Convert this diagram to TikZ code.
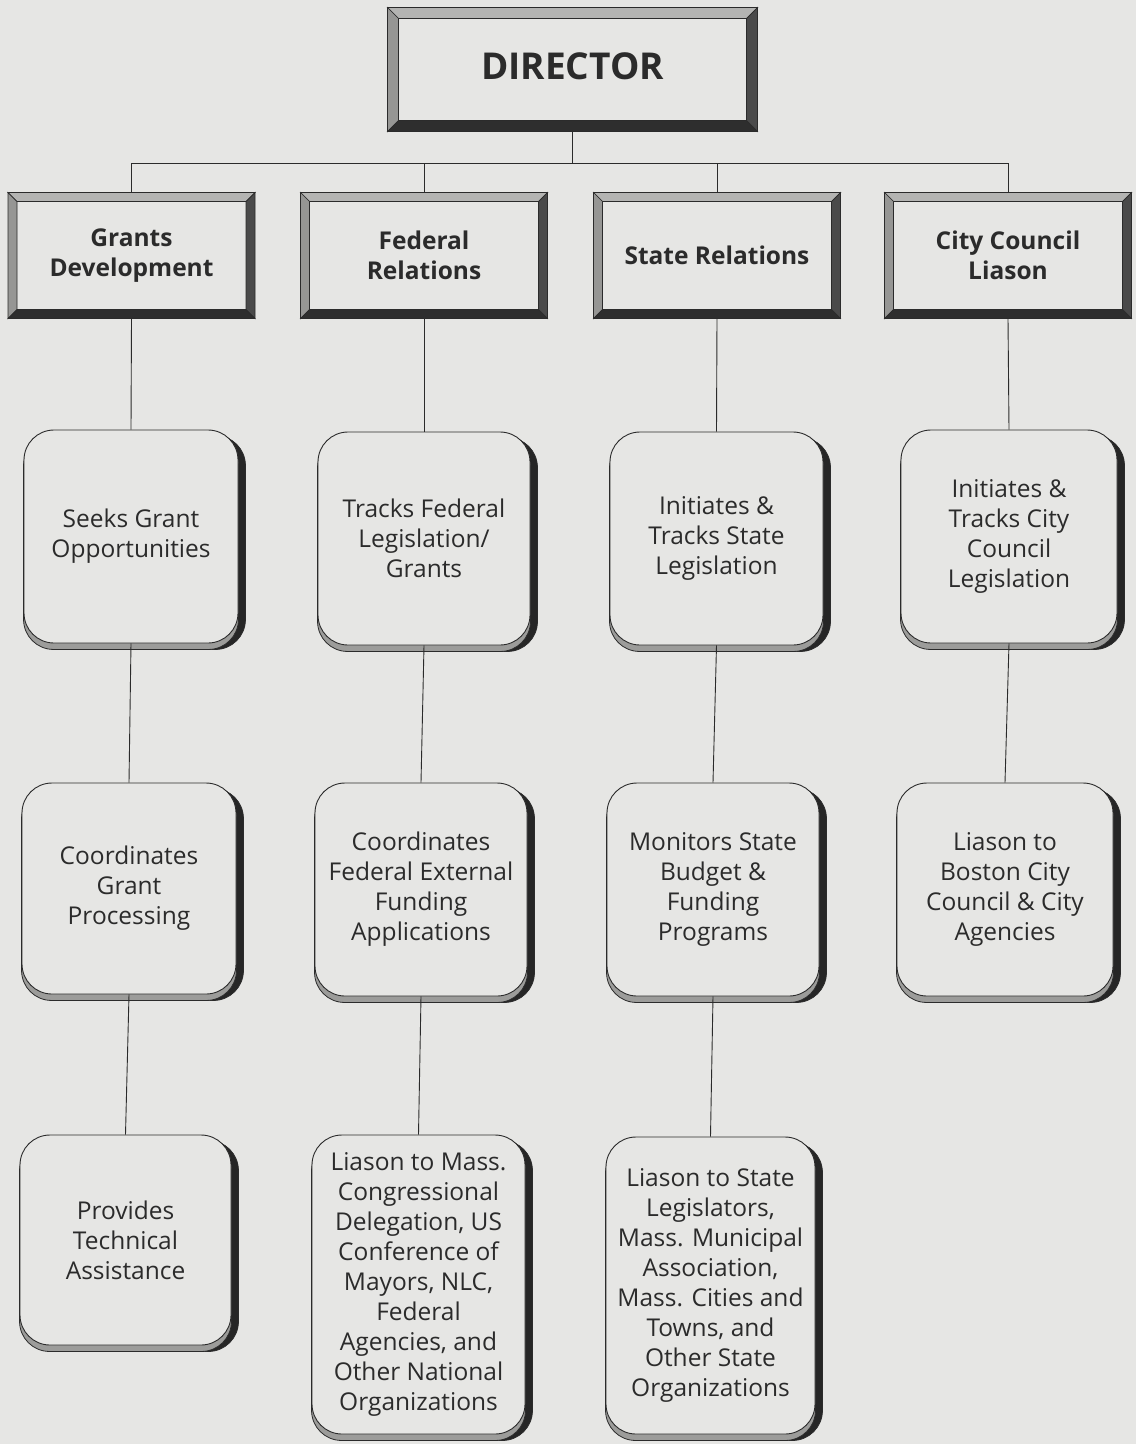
\documentclass[tikz,border=0pt]{standalone}
\usepackage{fontspec}
\setmainfont{Open Sans}
\usetikzlibrary{calc,backgrounds}

\definecolor{paper}{HTML}{E6E6E4}
\definecolor{ink}{HTML}{2B2B2B}
\definecolor{bevtop}{HTML}{B4B4B2}
\definecolor{bevleft}{HTML}{969694}
\definecolor{bevright}{HTML}{4A4A4A}
\definecolor{bevbottom}{HTML}{2E2E2E}
\definecolor{shadedark}{HTML}{262626}
\definecolor{shadegray}{HTML}{9C9C9A}

% bevelled frame inside a rectangular node: #1 node name, #2 frame depth
\newcommand\bevelframe[2]{%
  \filldraw[draw=ink, fill=bevtop, line width=0.7pt]
    (#1.north west) -- (#1.north east) -- ($(#1.north east)+(-#2,#2)$) -- ($(#1.north west)+(#2,#2)$) -- cycle;
  \filldraw[draw=ink, fill=bevleft, line width=0.7pt]
    (#1.north west) -- ($(#1.north west)+(#2,#2)$) -- ($(#1.south west)+(#2,-#2)$) -- (#1.south west) -- cycle;
  \filldraw[draw=ink, fill=bevright, line width=0.7pt]
    (#1.north east) -- (#1.south east) -- ($(#1.south east)+(-#2,-#2)$) -- ($(#1.north east)+(-#2,#2)$) -- cycle;
  \filldraw[draw=ink, fill=bevbottom, line width=0.7pt]
    (#1.south west) -- (#1.south east) -- ($(#1.south east)+(-#2,-#2)$) -- ($(#1.south west)+(#2,-#2)$) -- cycle;
}

% extruded edge behind a rounded task box
\newcommand\boxshade[1]{%
  \begin{pgfonlayer}{background}
    \filldraw[draw=ink, fill=shadedark, line width=0.8pt, rounded corners=30pt]
      ($(#1.north west)+(7,6)$) rectangle ($(#1.south east)+(7,6)$);
    \filldraw[draw=ink, fill=shadegray, line width=0.8pt, rounded corners=30pt]
      ($(#1.north west)+(0,6)$) rectangle ($(#1.south east)+(0,6)$);
  \end{pgfonlayer}}

\begin{document}
\begin{tikzpicture}[
  x=1pt, y=-1pt,
  wire/.style={draw=ink, line width=0.9pt},
  chief/.style={draw=ink, line width=1pt, fill=paper, minimum width=369pt, minimum height=123pt,
    inner sep=0pt, text=ink, font=\fontsize{37}{42}\selectfont\bfseries},
  head/.style={draw=ink, line width=1pt, fill=paper, minimum width=246pt, minimum height=125pt,
    inner sep=0pt, align=center, text=ink, font=\fontsize{24.5}{30}\selectfont\bfseries},
  task/.style={draw=ink, line width=0.9pt, fill=paper, rounded corners=30pt, inner sep=0pt,
    align=center, text=ink, font=\fontsize{24.5}{30}\selectfont},
]
\begin{pgfonlayer}{background}
  \fill[paper] (0,0) rectangle (1136,1444);
\end{pgfonlayer}
\useasboundingbox (0,0) rectangle (1136,1444);

% top of the chart
\node[chief] (dir) at (572.5,69.5) {\raisebox{7pt}{DIRECTOR}};
\bevelframe{dir}{11}

% division heads
\node[head] (h1) at (131.5,255.5) {Grants\\Development};
\node[head] (h2) at (424,255.5) {Federal\\Relations};
\node[head] (h3) at (717,255.5) {State Relations};
\node[head] (h4) at (1008,255.5) {City Council\\Liason};
\foreach \h in {h1,h2,h3,h4} {\bevelframe{\h}{9}}

% first row of duties
\node[task, minimum width=214pt, minimum height=213pt] (a1) at (131,536.5) {Seeks Grant\\Opportunities};
\node[task, minimum width=212pt, minimum height=213pt] (b1) at (424,538.5) {Tracks Federal\\Legislation/\\Grants};
\node[task, minimum width=213pt, minimum height=213pt] (c1) at (716.5,538.5) {Initiates \&\\Tracks State\\Legislation};
\node[task, minimum width=216pt, minimum height=213pt] (d1) at (1009,536.5) {Initiates \&\\Tracks City\\Council\\Legislation};

% second row
\node[task, minimum width=214pt, minimum height=211pt] (a2) at (129,888.5) {Coordinates\\Grant\\Processing};
\node[task, minimum width=212pt, minimum height=213pt] (b2) at (421,889.5) {Coordinates\\Federal External\\Funding\\Applications};
\node[task, minimum width=212pt, minimum height=213pt] (c2) at (713,889.5) {Monitors State\\Budget \&\\Funding\\Programs};
\node[task, minimum width=216pt, minimum height=213pt] (d2) at (1005,889.5) {Liason to\\Boston City\\Council \& City\\Agencies};

% third row
\node[task, minimum width=211pt, minimum height=210pt] (a3) at (125.5,1240) {Provides\\Technical\\Assistance};
\node[task, minimum width=213pt, minimum height=299pt] (b3) at (418.5,1284.5) {Liason to Mass.\\Congressional\\Delegation, US\\Conference of\\Mayors, NLC,\\Federal\\Agencies, and\\Other National\\Organizations};
\node[task, minimum width=209pt, minimum height=297pt] (c3) at (710.5,1285.5) {Liason to State\\Legislators,\\Mass. Municipal\\Association,\\Mass. Cities and\\Towns, and\\Other State\\Organizations};

\foreach \b in {a1,b1,c1,d1,a2,b2,c2,d2,a3,b3,c3} {\boxshade{\b}}

% connectors
\coordinate (bus) at (0,163);
\draw[wire] (dir.south) -- (dir.south |- bus);
\draw[wire] (h1.north |- bus) -- (h4.north |- bus);
\foreach \h in {h1,h2,h3,h4} {\draw[wire] (\h.north |- bus) -- (\h.north);}
\draw[wire] (h1.south) -- (a1.north);
\draw[wire] (h2.south) -- (b1.north);
\draw[wire] (h3.south) -- (c1.north);
\draw[wire] (h4.south) -- (d1.north);
\draw[wire] (a1.south) -- (a2.north);
\draw[wire] (b1.south) -- (b2.north);
\draw[wire] (c1.south) -- (c2.north);
\draw[wire] (d1.south) -- (d2.north);
\draw[wire] (a2.south) -- (a3.north);
\draw[wire] (b2.south) -- (b3.north);
\draw[wire] (c2.south) -- (c3.north);
\end{tikzpicture}
\end{document}
